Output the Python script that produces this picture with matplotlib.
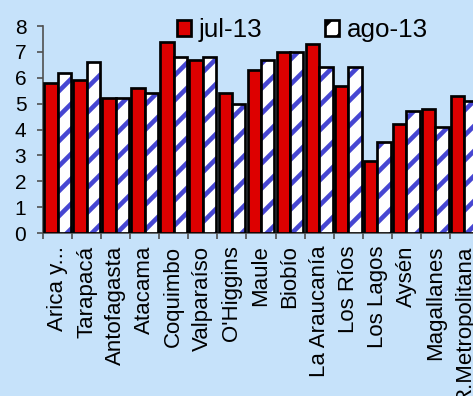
import matplotlib
matplotlib.use('Agg')
import matplotlib.pyplot as plt
from matplotlib.patches import Patch
import numpy as np

regiones = ['Arica y...', 'Tarapacá', 'Antofagasta', 'Atacama', 'Coquimbo',
            'Valparaíso', "O'Higgins", 'Maule', 'Biobío', 'La Araucanía',
            'Los Ríos', 'Los Lagos', 'Aysén', 'Magallanes', 'R.Metropolitana']
jul13 = [5.8, 5.9, 5.2, 5.6, 7.4, 6.7, 5.4, 6.3, 7.0, 7.3, 5.7, 2.8, 4.2, 4.8, 5.3]
ago13 = [6.2, 6.6, 5.2, 5.4, 6.8, 6.8, 5.0, 6.7, 7.0, 6.4, 6.4, 3.5, 4.7, 4.1, 5.1]

bg = '#C6E2FA'
rojo = '#DD0000'
azul = '#4646D2'
plt.rcParams['font.family'] = 'Liberation Sans'
plt.rcParams['hatch.linewidth'] = 2.2

dpi = 150
fig = plt.figure(figsize=(473 / dpi, 396 / dpi), dpi=dpi, facecolor=bg)
ax = fig.add_axes([0.0909, 0.4116, 0.9218, 0.5227])
ax.set_facecolor(bg)

x = np.arange(len(regiones))
w = 0.46
ax.bar(x - w / 2, jul13, w, color=rojo, edgecolor='black', linewidth=1.3, zorder=3)
# striped fill first (hatch takes the edge colour), black outline on top
ax.bar(x + w / 2, ago13, w, color='white', edgecolor=azul, linewidth=0,
       hatch='//', zorder=3)
ax.bar(x + w / 2, ago13, w, fill=False, edgecolor='black', linewidth=1.3, zorder=4)

ax.set_xlim(-0.5, len(regiones) - 0.5)
ax.set_ylim(0, 8)
ax.set_yticks(range(0, 9))
ax.tick_params(axis='y', labelsize=10, length=3, width=0.8, color='#505050', pad=5)

ax.set_xticks(x)
ax.set_xticklabels(regiones, rotation=90, fontsize=10.7)
ax.tick_params(axis='x', which='major', length=0, pad=6)
ax.set_xticks(np.arange(-0.5, len(regiones)), minor=True)
ax.tick_params(axis='x', which='minor', length=3, width=0.8, color='#505050')

for s in ['top', 'right']:
    ax.spines[s].set_visible(False)
for s in ['left', 'bottom']:
    ax.spines[s].set_color('#505050')
    ax.spines[s].set_linewidth(0.8)

handles = [Patch(facecolor=rojo, edgecolor='black', linewidth=1.3),
           Patch(facecolor='white', edgecolor='black', hatch='//', linewidth=1.3)]
leg = ax.legend(handles, ['jul-13', 'ago-13'], loc='upper center',
                bbox_to_anchor=(0.595, 1.15), ncol=2, frameon=False,
                fontsize=12.5, handlelength=0.55, handleheight=0.55,
                handletextpad=0.3, columnspacing=2.4)

fig.savefig('out.png', dpi=dpi, facecolor=bg)
